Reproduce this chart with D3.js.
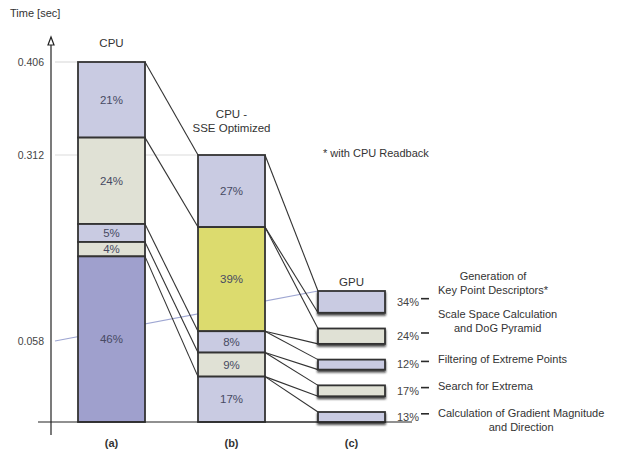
<!DOCTYPE html>
<html>
<head>
<meta charset="utf-8">
<script src="https://cdnjs.cloudflare.com/ajax/libs/d3/7.8.5/d3.min.js"></script>
<style>
  body { margin: 0; background: #fff; }
  svg { font-family: "Liberation Sans", Arial, sans-serif; }
</style>
</head>
<body>
<svg id="canvas" width="621" height="450"></svg>
<script>
(() => {
    // Chart data.
    const BARS = ["CPU", "CPU - SSE Optimized", "GPU"];
    const BAR_LETTERS = ["(a)", "(b)", "(c)"];
    const BAR_TITLES = [["CPU"], ["CPU -", "SSE Optimized"], ["GPU"]];
    const TOTAL_TIMES = [0.406, 0.312, 0.058];
    const TICK_VALUES = [0.058, 0.312, 0.406];
    const STAGE_LABELS = [
        ["Generation of", "Key Point Descriptors*"],
        ["Scale Space Calculation", "and DoG Pyramid"],
        ["Filtering of Extreme Points"],
        ["Search for Extrema"],
        ["Calculation of Gradient Magnitude", "and Direction"]
    ];
    const CPU_SHARES = [21, 24, 5, 4, 46];
    const SSE_SHARES = [27, 39, 8, 9, 17];
    const GPU_SHARES = [34, 24, 12, 17, 13];
    const NOTE = "* with CPU Readback";
    const Y_TITLE = "Time [sec]";

    // Layout and style.
    const AXIS_X = 51;
    const BASE_Y = 422;
    const GPU_LIFT = 50;          // exploded GPU stack sits above its tick
    const GPU_MIN_H = 10;
    const TITLE_GAP = [15, 23, 5];
    const STAGE_LABEL_DY = [-26, -22, -5, -5, -4];
    const LINE_H = 14;
    const STROKE = "#333";
    const LAVENDER = "#c9cbe2";
    const BEIGE = "#e0e1d5";
    const PURPLE = "#9fa0cd";
    const YELLOW = "#dcdb6e";

    let canvas = d3.select("#canvas");

    // Scales.
    let y = d3.scaleLinear()
        .domain([0, ...TICK_VALUES])
        .range([BASE_Y, 341, 155, 62]);

    let x = d3.scaleBand()
        .domain(BARS)
        .range([78, 385])
        .paddingInner(0.4417);

    let gpuH = d3.scaleLinear().domain([0, 100]).range([0, 64]);

    function segColor(bar, k) {
        if (bar === 0 && k === 4) return PURPLE;
        if (bar === 1 && k === 1) return YELLOW;
        return k % 2 === 0 ? LAVENDER : BEIGE;
    }

    // Build the segment geometry for each bar.
    function stackedSegments(bar, shares) {
        let seg = d3.scaleLinear().domain([0, 100]).range([y(TOTAL_TIMES[bar]), y(0)]);
        let cum = 0;
        return shares.map((s, k) => {
            let d = { bar, k, share: s, y0: seg(cum), y1: seg(cum + s) };
            cum += s;
            return d;
        });
    }

    function explodedSegments(bar, shares) {
        let top = y(TOTAL_TIMES[bar]) - GPU_LIFT;
        let heights = shares.map(s => Math.max(GPU_MIN_H, gpuH(s)));
        let gap = (y(0) - top - d3.sum(heights)) / (shares.length - 1);
        let cursor = top;
        return shares.map((s, k) => {
            let d = { bar, k, share: s, y0: cursor, y1: cursor + heights[k] };
            cursor += heights[k] + gap;
            return d;
        });
    }

    let cpu = stackedSegments(0, CPU_SHARES);
    let sse = stackedSegments(1, SSE_SHARES);
    let gpu = explodedSegments(2, GPU_SHARES);
    let allSegs = [...cpu, ...sse, ...gpu];

    let defs = canvas.append("defs");
    let shadow = defs.append("filter").attr("id", "shadow")
        .attr("x", "-10%").attr("y", "-20%").attr("width", "130%").attr("height", "170%");
    shadow.append("feDropShadow")
        .attr("dx", 0).attr("dy", 2).attr("stdDeviation", 1)
        .attr("flood-color", "#111").attr("flood-opacity", 0.8);

    // Guide lines from the tick labels to the bar tops.
    let guides = canvas.append("g");
    TICK_VALUES.forEach(t => {
        let bar = TOTAL_TIMES.indexOf(t);
        let ty = bar === 2 ? y(t) - GPU_LIFT : y(t);
        guides.append("line")
            .attr("x1", AXIS_X + 4).attr("y1", y(t))
            .attr("x2", x(BARS[bar])).attr("y2", ty)
            .attr("stroke", bar === 2 ? "#9ea6d2" : "#dcdcdc")
            .attr("stroke-width", 1.2);
    });

    // Connectors between the bars.
    let links = canvas.append("g")
        .attr("stroke", STROKE)
        .attr("stroke-width", 1.1);
    let cpuRight = x(BARS[0]) + x.bandwidth();
    let sseLeft = x(BARS[1]);
    let sseRight = x(BARS[1]) + x.bandwidth();
    let gpuLeft = x(BARS[2]);

    cpu.forEach((d, k) => {
        links.append("line")
            .attr("x1", cpuRight).attr("y1", d.y0)
            .attr("x2", sseLeft).attr("y2", sse[k].y0);
    });
    sse.forEach((d, k) => {
        links.append("line")
            .attr("x1", sseRight).attr("y1", d.y0)
            .attr("x2", gpuLeft).attr("y2", gpu[k].y0);
        links.append("line")
            .attr("x1", sseRight).attr("y1", d.y1)
            .attr("x2", gpuLeft).attr("y2", gpu[k].y1);
    });

    // Bars.
    canvas.append("g").selectAll("rect")
        .data(allSegs)
        .enter()
        .append("rect")
        .attr("x", d => x(BARS[d.bar]))
        .attr("y", d => d.y0)
        .attr("width", x.bandwidth())
        .attr("height", d => d.y1 - d.y0)
        .attr("fill", d => segColor(d.bar, d.k))
        .attr("stroke", STROKE)
        .attr("stroke-width", 1.8)
        .attr("filter", d => d.bar === 2 ? "url(#shadow)" : null);

    // Percent labels inside CPU and SSE bars.
    canvas.append("g").selectAll("text")
        .data([...cpu, ...sse])
        .enter()
        .append("text")
        .attr("x", d => x(BARS[d.bar]) + x.bandwidth() / 2)
        .attr("y", d => (d.y0 + d.y1) / 2)
        .attr("dy", "0.35em")
        .attr("text-anchor", "middle")
        .attr("font-size", 11.5)
        .attr("fill", "#474a63")
        .text(d => `${d.share}%`);

    // Axes.
    let axis = canvas.append("g").attr("stroke", "#222").attr("stroke-width", 1.2);
    axis.append("line")
        .attr("x1", AXIS_X).attr("y1", 40)
        .attr("x2", AXIS_X).attr("y2", 435);
    axis.append("line")
        .attr("x1", 38).attr("y1", BASE_Y)
        .attr("x2", gpuLeft + x.bandwidth() + 27).attr("y2", BASE_Y);
    axis.append("path")
        .attr("d", `M${AXIS_X},37 L${AXIS_X - 3},45 L${AXIS_X + 3},45 Z`)
        .attr("fill", "#fff");

    canvas.append("g").selectAll("text")
        .data(TICK_VALUES)
        .enter()
        .append("text")
        .attr("x", AXIS_X - 7)
        .attr("y", d => y(d))
        .attr("dy", "0.35em")
        .attr("text-anchor", "end")
        .attr("font-size", 10.5)
        .attr("fill", "#444")
        .text(d => d3.format(".3f")(d));

    canvas.append("text")
        .attr("x", 10).attr("y", 17)
        .attr("font-size", 11)
        .attr("fill", "#333")
        .text(Y_TITLE);

    // Bar titles and letters.
    BARS.forEach((b, i) => {
        let cx = x(b) + x.bandwidth() / 2;
        let top = i === 2 ? gpu[0].y0 : y(TOTAL_TIMES[i]);
        let lines = BAR_TITLES[i];
        lines.forEach((line, j) => {
            canvas.append("text")
                .attr("x", cx)
                .attr("y", top - TITLE_GAP[i] - (lines.length - 1 - j) * LINE_H)
                .attr("text-anchor", "middle")
                .attr("font-size", 11.5)
                .attr("fill", "#333")
                .text(line);
        });
        canvas.append("text")
            .attr("x", cx).attr("y", 447)
            .attr("text-anchor", "middle")
            .attr("font-size", 11)
            .attr("font-weight", "bold")
            .attr("fill", "#333")
            .text(BAR_LETTERS[i]);
    });

    // GPU stage labels, each with a short leader dash.
    let gpuRight = gpuLeft + x.bandwidth();
    gpu.forEach((d, k) => {
        let cy = (d.y0 + d.y1) / 2;
        canvas.append("text")
            .attr("x", gpuRight + 12).attr("y", cy)
            .attr("dy", "0.35em")
            .attr("font-size", 11)
            .attr("fill", "#444")
            .text(`${d.share}%`);
        canvas.append("rect")
            .attr("x", gpuRight + 36).attr("y", cy - 4)
            .attr("width", 8).attr("height", 1.6)
            .attr("fill", "#2a2a2a");

        let lines = STAGE_LABELS[k];
        let g = canvas.append("g");
        let texts = lines.map((line, j) => g.append("text")
            .attr("y", cy + STAGE_LABEL_DY[k] + j * LINE_H)
            .attr("dy", "0.35em")
            .attr("font-size", 11)
            .attr("fill", "#333")
            .text(line));
        let widths = texts.map(t => t.node().getComputedTextLength());
        let maxW = d3.max(widths);
        let left = gpuRight + 53;
        texts.forEach(t => t.attr("x", left + maxW / 2).attr("text-anchor", "middle"));
    });

    canvas.append("text")
        .attr("x", 323).attr("y", 157)
        .attr("font-size", 11)
        .attr("fill", "#333")
        .text(NOTE);
})();
</script>
</body>
</html>
